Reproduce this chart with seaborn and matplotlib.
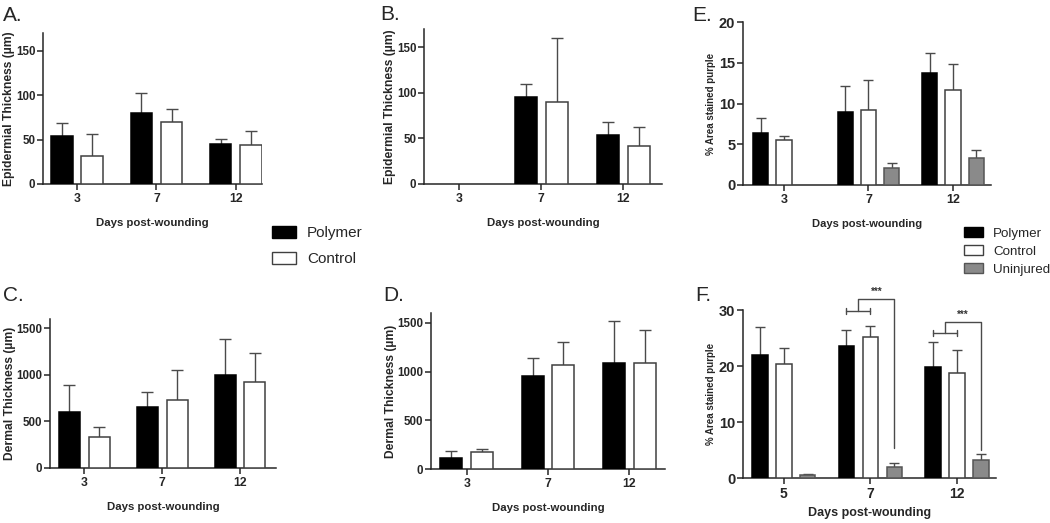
import numpy as np
import pandas as pd
import matplotlib
matplotlib.use("Agg")
import matplotlib.pyplot as plt
import seaborn as sns
from matplotlib.patches import Patch

# ---------------- data ----------------
days_wound = ["3", "7", "12"]
days_f = ["5", "7", "12"]
groups2 = ["Polymer", "Control"]
groups3 = ["Polymer", "Control", "Uninjured"]
nan = np.nan

# A. Epidermal thickness (um)
a_polymer = [54, 80, 45]
a_polymer_sd = [15, 23, 6]
a_control = [32, 70, 44]
a_control_sd = [24, 15, 16]

# B. Epidermal thickness (um)
b_polymer = [nan, 95, 54]
b_polymer_sd = [nan, 15, 14]
b_control = [nan, 90, 42]
b_control_sd = [nan, 70, 21]

# C. Dermal thickness (um)
c_polymer = [600, 660, 995]
c_polymer_sd = [290, 155, 395]
c_control = [330, 735, 920]
c_control_sd = [110, 315, 317]

# D. Dermal thickness (um)
d_polymer = [112, 949, 1092]
d_polymer_sd = [72, 194, 428]
d_control = [173, 1071, 1090]
d_control_sd = [31, 228, 340]

# E. % Area stained purple
e_polymer = [6.4, 8.9, 13.8]
e_polymer_sd = [1.8, 3.2, 2.4]
e_control = [5.5, 9.2, 11.7]
e_control_sd = [0.5, 3.7, 3.2]
e_uninjured = [nan, 2.1, 3.3]
e_uninjured_sd = [nan, 0.6, 1.0]

# F. % Area stained purple
f_polymer = [21.9, 23.6, 19.9]
f_polymer_sd = [5.0, 2.8, 4.3]
f_control = [20.3, 25.1, 18.8]
f_control_sd = [2.9, 2.1, 4.1]
f_uninjured = [0.5, 2.0, 3.2]
f_uninjured_sd = [0.3, 0.7, 1.0]

# significance brackets in F: (day index, inner bracket y, outer bracket y, drop to y)
f_sig_day = [1, 2]
f_sig_inner = [29.8, 25.9]
f_sig_outer = [32.0, 27.9]
f_sig_drop = [5.4, 5.0]
f_sig_text = ["***", "***"]

# ---------------- style ----------------
sns.set_style("ticks")
plt.rcParams["font.family"] = ["Liberation Sans", "DejaVu Sans"]
plt.rcParams["axes.linewidth"] = 1.1

FACE = {"Polymer": "#000000", "Control": "#ffffff", "Uninjured": "#8a8a8a"}
EDGE = {"Polymer": "#000000", "Control": "#404040", "Uninjured": "#555555"}
ERRC = "#4a4a4a"

W, H = 1050, 523
fig = plt.figure(figsize=(W / 100, H / 100), dpi=100)


def make_ax(l, r, t, b):
    return fig.add_axes([l / W, 1 - b / H, (r - l) / W, (b - t) / H])


def panel(ax, days, groups, means, sds, ylim, yticks, xlim, ylabel, width, gap,
          ytick_fs=8.3, xtick_fs=8.8, ylab_fs=8.7, xlab_fs=8.2, cap=4.2,
          ylabpad=0.5, xlabpad=9):
    rows = []
    for g, m, s in zip(groups, means, sds):
        for d, mv, sv in zip(days, m, s):
            if not np.isnan(mv):
                rows.append(dict(day=d, group=g, value=mv, sd=sv))
    df = pd.DataFrame(rows)
    sns.barplot(data=df, x="day", y="value", hue="group", order=days,
                hue_order=groups, palette=FACE, saturation=1, errorbar=None,
                width=width, gap=gap, legend=False, linewidth=1.1,
                edgecolor="black", ax=ax)
    n = len(groups)
    step = width / n
    for p in list(ax.patches):
        xc = p.get_x() + p.get_width() / 2
        ci = int(round(xc))
        hi = int(round((xc - ci) / step + (n - 1) / 2))
        g = groups[hi]
        d = days[ci]
        p.set_edgecolor(EDGE[g])
        p.set_zorder(3)
        row = df[(df.day == d) & (df.group == g)]
        if len(row):
            sd = float(row.sd.iloc[0])
            h = p.get_height()
            _, caps, _ = ax.errorbar([xc], [h], yerr=[[0], [sd]], fmt="none",
                                     ecolor=ERRC, elinewidth=1.0, capsize=cap,
                                     capthick=1.0, zorder=2)
            for c in caps:
                if abs(c.get_ydata()[0] - h) < 1e-9:
                    c.set_visible(False)
    ax.set_xlim(*xlim)
    ax.set_ylim(*ylim)
    ax.set_yticks(yticks)
    ax.set_ylabel(ylabel, fontsize=ylab_fs, fontweight="bold", labelpad=ylabpad)
    ax.set_xlabel("Days post-wounding", fontsize=xlab_fs, fontweight="bold",
                  labelpad=xlabpad)
    ax.tick_params(axis="y", length=4.5, width=1.1, pad=1, labelsize=ytick_fs)
    ax.tick_params(axis="x", length=4.5, width=1.1, pad=2, labelsize=xtick_fs)
    for lab in ax.get_xticklabels() + ax.get_yticklabels():
        lab.set_fontweight("bold")
    sns.despine(ax=ax)
    return ax


epi = "Epidermial Thickness (\u00b5m)"
der = "Dermal Thickness (\u00b5m)"
pct = "% Area stained purple"

axA = make_ax(43, 262, 33, 184)
panel(axA, days_wound, groups2, [a_polymer, a_control], [a_polymer_sd, a_control_sd],
      (0, 170), [0, 50, 100, 150], (-0.43, 2.33), epi, 0.76, 0.29)

axB = make_ax(424, 662, 29, 184)
panel(axB, days_wound, groups2, [b_polymer, b_control], [b_polymer_sd, b_control_sd],
      (0, 170), [0, 50, 100, 150], (-0.43, 2.47), epi, 0.76, 0.29)

axC = make_ax(50, 276, 319, 468)
panel(axC, days_wound, groups2, [c_polymer, c_control], [c_polymer_sd, c_control_sd],
      (0, 1600), [0, 500, 1000, 1500], (-0.44, 2.46), der, 0.76, 0.29)

axD = make_ax(431, 665, 313, 469)
panel(axD, days_wound, groups2, [d_polymer, d_control], [d_polymer_sd, d_control_sd],
      (0, 1600), [0, 500, 1000, 1500], (-0.44, 2.44), der, 0.76, 0.29)

axE = make_ax(743, 991, 22, 185)
panel(axE, days_wound, groups3, [e_polymer, e_control, e_uninjured],
      [e_polymer_sd, e_control_sd, e_uninjured_sd],
      (0, 20), [0, 5, 10, 15, 20], (-0.485, 2.45), pct, 0.83, 0.35,
      ytick_fs=10.5, xtick_fs=9, ylab_fs=7, xlab_fs=8, cap=3.6, ylabpad=2)

axF = make_ax(743, 996, 310, 478)
panel(axF, days_f, groups3, [f_polymer, f_control, f_uninjured],
      [f_polymer_sd, f_control_sd, f_uninjured_sd],
      (0, 30), [0, 10, 20, 30], (-0.47, 2.45), pct, 0.83, 0.35,
      ytick_fs=10.5, xtick_fs=10, ylab_fs=7, xlab_fs=9, cap=3.6, ylabpad=2,
      xlabpad=4)

# significance brackets in F (positions follow the bar offsets of the group)
step3 = 0.83 / 3
for di, yi, yo, yd, txt in zip(f_sig_day, f_sig_inner, f_sig_outer, f_sig_drop, f_sig_text):
    x_pol = di - step3
    x_con = di
    x_uni = di + step3
    kw = dict(color=ERRC, lw=1.0, clip_on=False, zorder=4)
    axF.plot([x_pol, x_con], [yi, yi], **kw)
    axF.plot([x_pol, x_pol], [yi - 0.6, yi + 0.6], **kw)
    axF.plot([x_con, x_con], [yi - 0.6, yi + 0.6], **kw)
    xm = (x_pol + x_con) / 2
    axF.plot([xm, xm, x_uni, x_uni], [yi, yo, yo, yd], **kw)
    axF.text((xm + x_uni) / 2, yo + 0.4, txt, ha="center", va="bottom",
             fontsize=7, fontweight="bold", color="#333333", clip_on=False)

# panel letters
for lab, x, y in [("A.", 3, 21), ("B.", 380, 20), ("E.", 692, 21),
                  ("C.", 3, 301), ("D.", 383, 301), ("F.", 695, 301)]:
    fig.text(x / W, 1 - y / H, lab, fontsize=15, ha="left", va="baseline")

# legends
h2 = [Patch(facecolor=FACE[g], edgecolor=EDGE[g], linewidth=1.0) for g in groups2]
fig.legend(h2, groups2, loc="upper left", bbox_to_anchor=(272 / W, 1 - 226 / H),
           frameon=False, fontsize=11, handlelength=1.6, handleheight=0.85,
           handletextpad=0.7, labelspacing=0.75, borderpad=0, borderaxespad=0)
h3 = [Patch(facecolor=FACE[g], edgecolor=EDGE[g], linewidth=1.0) for g in groups3]
fig.legend(h3, groups3, loc="upper left", bbox_to_anchor=(964 / W, 1 - 227 / H),
           frameon=False, fontsize=9.6, handlelength=1.45, handleheight=0.8,
           handletextpad=0.75, labelspacing=0.4, borderpad=0, borderaxespad=0)

fig.savefig("out.png", dpi=100)
